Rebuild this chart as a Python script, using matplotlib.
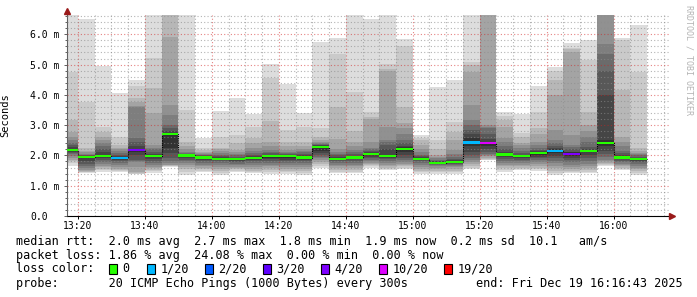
import matplotlib
matplotlib.use("Agg")
import matplotlib.pyplot as plt
import numpy as np
from matplotlib.patches import Rectangle

plt.rcParams['font.family'] = ['DejaVu Sans Mono', 'DejaVu Sans']

# ---------------- data ----------------
bar_start = ["13:15", "13:20", "13:25", "13:30", "13:35", "13:40", "13:45", "13:50",
             "13:55", "14:00", "14:05", "14:10", "14:15", "14:20", "14:25", "14:30",
             "14:35", "14:40", "14:45", "14:50", "14:55", "15:00", "15:05", "15:10",
             "15:15", "15:20", "15:25", "15:30", "15:35", "15:40", "15:45", "15:50",
             "15:55", "16:00", "16:05"]

median_ms = [2.19, 1.94, 1.98, 1.92, 2.17, 1.98, 2.71, 2.00, 1.93, 1.89, 1.88, 1.92,
             1.97, 1.98, 1.93, 2.29, 1.89, 1.93, 2.05, 1.97, 2.22, 1.89, 1.76, 1.78,
             2.43, 2.40, 2.03, 1.97, 2.08, 2.14, 2.04, 2.15, 2.42, 1.93, 1.88]

# index into loss_labels for each bar
loss_level = [0, 0, 0, 1, 4, 0, 0, 0, 0, 0, 0, 0, 0, 0, 0, 0, 0, 0, 0, 0, 0, 0, 0, 0,
              1, 5, 0, 0, 0, 1, 4, 0, 0, 0, 0]

loss_labels = ["0", "1/20", "2/20", "3/20", "4/20", "10/20", "19/20"]
loss_colors = ["#26ff00", "#00b8ff", "#0059ff", "#5e00ff", "#7e00ff", "#dd00ff", "#ff0000"]

# 20 sorted ping round-trip times (ms) per 5-minute step
ping_ms = [
    [1.66, 1.74, 1.80, 1.86, 1.92, 1.98, 2.04, 2.08, 2.12, 2.17, 2.22, 2.28, 2.34, 2.42, 2.50, 2.60, 2.79, 3.16, 4.76, 7.00],
    [1.42, 1.44, 1.46, 1.49, 1.52, 1.58, 1.65, 1.72, 1.80, 1.90, 1.96, 1.98, 2.00, 2.02, 2.06, 2.10, 2.15, 2.23, 3.77, 6.52],
    [1.45, 1.52, 1.56, 1.61, 1.66, 1.72, 1.78, 1.84, 1.90, 1.96, 2.02, 2.10, 2.20, 2.30, 2.40, 2.50, 2.62, 2.79, 2.95, 4.95],
    [1.46, 1.49, 1.52, 1.56, 1.62, 1.68, 1.74, 1.80, 1.85, 1.90, 1.96, 1.99, 2.03, 2.08, 2.15, 2.20, 2.25, 2.35, 2.62, 4.06],
    [1.39, 1.40, 1.42, 1.45, 1.63, 1.78, 1.82, 1.85, 2.00, 2.10, 2.20, 2.30, 2.45, 2.57, 3.60, 3.62, 3.75, 3.90, 4.29, 4.48],
    [1.42, 1.47, 1.52, 1.58, 1.63, 1.70, 1.76, 1.82, 1.88, 1.95, 2.02, 2.05, 2.10, 2.20, 2.25, 2.35, 3.40, 4.23, 5.22, 7.00],
    [1.62, 1.64, 1.66, 1.68, 1.70, 1.74, 1.80, 1.90, 2.07, 2.24, 2.73, 2.80, 2.90, 3.00, 3.34, 3.67, 5.92, 7.00, 7.20, 7.40],
    [1.37, 1.45, 1.55, 1.62, 1.70, 1.75, 1.80, 1.85, 1.90, 1.97, 2.02, 2.03, 2.05, 2.08, 2.12, 2.20, 2.30, 2.45, 3.50, 7.00],
    [1.44, 1.50, 1.55, 1.60, 1.65, 1.70, 1.75, 1.80, 1.85, 1.90, 1.96, 1.99, 2.01, 2.03, 2.05, 2.08, 2.12, 2.18, 2.23, 2.57],
    [1.36, 1.42, 1.50, 1.56, 1.62, 1.68, 1.74, 1.80, 1.84, 1.88, 1.92, 1.95, 1.98, 2.02, 2.08, 2.14, 2.20, 2.23, 2.62, 3.47],
    [1.46, 1.50, 1.54, 1.58, 1.62, 1.67, 1.72, 1.77, 1.82, 1.86, 1.90, 1.93, 1.96, 2.00, 2.05, 2.10, 2.18, 2.40, 2.68, 3.90],
    [1.41, 1.45, 1.50, 1.56, 1.62, 1.68, 1.74, 1.80, 1.86, 1.90, 1.95, 1.98, 2.02, 2.08, 2.15, 2.23, 2.40, 2.57, 2.95, 3.38],
    [1.38, 1.45, 1.52, 1.58, 1.64, 1.70, 1.76, 1.82, 1.88, 1.93, 1.99, 2.03, 2.08, 2.13, 2.18, 2.30, 2.45, 3.15, 4.56, 5.03],
    [1.38, 1.44, 1.50, 1.56, 1.62, 1.68, 1.74, 1.80, 1.86, 1.93, 2.00, 2.02, 2.04, 2.08, 2.13, 2.18, 2.30, 2.45, 2.84, 4.37],
    [1.36, 1.42, 1.48, 1.55, 1.62, 1.68, 1.74, 1.80, 1.86, 1.91, 1.96, 2.00, 2.04, 2.10, 2.16, 2.22, 2.32, 2.45, 2.95, 3.40],
    [1.60, 1.66, 1.72, 1.78, 1.84, 1.90, 1.96, 2.02, 2.08, 2.16, 2.32, 2.34, 2.36, 2.38, 2.42, 2.46, 2.50, 2.60, 2.90, 5.75],
    [1.41, 1.46, 1.52, 1.58, 1.64, 1.70, 1.75, 1.80, 1.84, 1.88, 1.92, 1.96, 2.00, 2.05, 2.12, 2.20, 2.55, 3.60, 5.36, 5.88],
    [1.41, 1.46, 1.52, 1.58, 1.64, 1.70, 1.76, 1.82, 1.87, 1.91, 1.95, 1.99, 2.04, 2.10, 2.18, 2.30, 2.45, 2.80, 4.10, 7.00],
    [1.60, 1.64, 1.68, 1.72, 1.76, 1.80, 1.85, 1.90, 1.96, 2.02, 2.08, 2.12, 2.16, 2.20, 2.25, 2.45, 3.20, 3.28, 3.45, 6.52],
    [1.52, 1.56, 1.60, 1.65, 1.70, 1.76, 1.82, 1.88, 1.92, 1.95, 2.02, 2.20, 2.35, 2.45, 2.51, 2.95, 4.80, 4.85, 5.03, 7.00],
    [1.56, 1.60, 1.64, 1.68, 1.73, 1.78, 1.84, 1.90, 2.00, 2.12, 2.28, 2.32, 2.40, 2.50, 2.70, 2.90, 3.07, 3.60, 5.62, 5.86],
    [1.38, 1.44, 1.50, 1.56, 1.62, 1.68, 1.74, 1.80, 1.85, 1.88, 1.92, 1.95, 1.98, 2.02, 2.10, 2.20, 2.35, 2.50, 2.57, 2.67],
    [1.38, 1.44, 1.50, 1.55, 1.60, 1.64, 1.68, 1.71, 1.73, 1.75, 1.78, 1.80, 1.83, 1.86, 1.90, 1.95, 2.00, 2.20, 2.50, 4.26],
    [1.39, 1.44, 1.50, 1.56, 1.62, 1.66, 1.70, 1.73, 1.76, 1.78, 1.80, 1.84, 1.88, 1.95, 2.05, 2.18, 2.50, 2.78, 3.10, 4.50],
    [1.55, 1.60, 1.66, 1.72, 1.78, 1.84, 1.92, 2.00, 2.10, 2.30, 2.56, 2.70, 2.85, 3.00, 3.17, 3.67, 4.76, 5.00, 5.09, 7.00],
    [1.84, 1.86, 1.88, 1.93, 1.97, 2.00, 2.05, 2.10, 2.20, 2.30, 2.45, 2.55, 2.70, 2.90, 2.95, 3.00, 7.00, 7.10, 7.20, 7.30],
    [1.46, 1.52, 1.58, 1.64, 1.70, 1.76, 1.82, 1.88, 1.94, 2.00, 2.06, 2.12, 2.20, 2.30, 2.45, 2.57, 2.94, 3.16, 3.30, 3.43],
    [1.52, 1.56, 1.60, 1.65, 1.70, 1.75, 1.80, 1.86, 1.90, 1.94, 1.99, 2.03, 2.07, 2.15, 2.25, 2.35, 2.40, 2.60, 2.73, 3.38],
    [1.48, 1.54, 1.60, 1.66, 1.72, 1.78, 1.84, 1.90, 1.96, 2.03, 2.10, 2.14, 2.18, 2.25, 2.35, 2.46, 2.70, 2.90, 3.43, 4.29],
    [1.35, 1.42, 1.50, 1.58, 1.66, 1.74, 1.82, 1.90, 1.98, 2.08, 2.20, 2.23, 2.30, 2.40, 2.51, 2.83, 3.98, 4.50, 4.78, 4.92],
    [1.41, 1.45, 1.50, 1.55, 1.62, 1.70, 1.78, 1.85, 1.92, 1.98, 2.10, 2.13, 2.20, 2.28, 2.35, 2.66, 5.40, 5.50, 5.56, 5.72],
    [1.41, 1.46, 1.52, 1.58, 1.65, 1.72, 1.80, 1.90, 2.00, 2.10, 2.18, 2.22, 2.29, 2.45, 2.62, 2.80, 3.00, 3.43, 5.14, 5.80],
    [1.66, 1.69, 1.72, 1.76, 1.80, 1.86, 1.96, 2.05, 2.15, 2.30, 2.50, 3.98, 4.80, 5.36, 5.69, 7.00, 7.10, 7.20, 7.30, 7.40],
    [1.52, 1.56, 1.60, 1.64, 1.68, 1.72, 1.77, 1.82, 1.87, 1.91, 1.96, 2.02, 2.07, 2.15, 2.30, 2.45, 2.61, 4.15, 5.80, 5.88],
    [1.36, 1.42, 1.48, 1.54, 1.60, 1.66, 1.72, 1.77, 1.81, 1.85, 1.90, 1.93, 1.96, 2.00, 2.04, 2.08, 2.15, 2.23, 4.76, 6.30],
]

x_tick_labels = ["13:20", "13:40", "14:00", "14:20", "14:40", "15:00", "15:20", "15:40", "16:00"]
y_tick_values = [0, 1, 2, 3, 4, 5, 6]
y_tick_labels = ["0.0", "1.0 m", "2.0 m", "3.0 m", "4.0 m", "5.0 m", "6.0 m"]

view_start = "13:16:43"
view_end = "16:16:43"
step_min = 5

legend_rtt = "median rtt:  2.0 ms avg  2.7 ms max  1.8 ms min  1.9 ms now  0.2 ms sd  10.1   am/s"
legend_loss = "packet loss: 1.86 % avg  24.08 % max  0.00 % min  0.00 % now"
legend_color = "loss color:"
legend_probe = "probe:       20 ICMP Echo Pings (1000 Bytes) every 300s"
legend_end = "end: Fri Dec 19 16:16:43 2025"


def to_min(s):
    parts = [int(p) for p in s.split(":")]
    m = (parts[0] - 13) * 60 + parts[1]
    if len(parts) > 2:
        m += parts[2] / 60.0
    return m


# ---------------- figure ----------------
W, H = 697, 297
fig = plt.figure(figsize=(W / 100, H / 100), dpi=100)
fig.patch.set_facecolor("white")

ax_l, ax_r, ax_t, ax_b = 67, 669.5, 15, 216
ax = fig.add_axes([ax_l / W, 1 - ax_b / H, (ax_r - ax_l) / W, (ax_b - ax_t) / H])
ax.set_facecolor("white")

x_left = np.array([to_min(t) for t in bar_start])
P = np.array(ping_ms)
med = np.array(median_ms)

ymax = 6.638
sw = ymax / (ax_b - ax_t)  # one pixel in ms

# smoke: nested bands, darker toward the middle
for i in range(10):
    ibot = i + 1
    shade = int(190 / 10 * (10 - ibot)) + 50
    col = "#%02x%02x%02x" % (shade, shade, shade)
    lo = P[:, i]
    hi = P[:, 19 - i]
    ax.bar(x_left, hi - lo, width=step_min, bottom=lo, align="edge", color=col,
           linewidth=0, antialiased=False, zorder=1)

# dotted median step line
xs = np.append(x_left, x_left[-1] + step_min)
ys = np.append(med, med[-1])
ax.step(xs, ys, where="post", color="#000000", lw=0.8, ls=(0, (1, 1)), zorder=3)

# colored median by loss
mcols = [loss_colors[k] for k in loss_level]
ax.bar(x_left, 2.2 * sw, width=step_min, bottom=med - 1.1 * sw, align="edge", color=mcols,
       linewidth=0, antialiased=False, zorder=4)

ax.set_xlim(to_min(view_start), to_min(view_end))
ax.set_ylim(0, ymax)

# ticks / grid
ax.set_xticks([to_min(t) for t in x_tick_labels])
ax.set_xticklabels(x_tick_labels)
ax.set_xticks(np.arange(20, 200, 5), minor=True)
ax.set_yticks(y_tick_values)
ax.set_yticklabels(y_tick_labels)
ax.set_yticks(np.arange(0, 6.61, 0.2), minor=True)

ax.set_axisbelow(False)
ax.grid(which="minor", color="#8c8c8c", alpha=0.65, lw=0.8, ls=(0, (1, 2)))
ax.grid(which="major", color="#d02020", alpha=0.55, lw=0.8, ls=(0, (1, 2)))

ax.tick_params(axis="y", which="major", length=2.2, width=0.7, color="#606060",
               pad=24.4, labelsize=7)
ax.tick_params(axis="y", which="minor", length=1.4, width=0.7, color="#606060")
ax.tick_params(axis="x", which="major", length=2, width=0.7, color="#000000",
               pad=1.6, labelsize=7)
ax.tick_params(axis="x", which="minor", length=0)
for lab in ax.get_yticklabels():
    lab.set_horizontalalignment("left")

for s in ("top", "right"):
    ax.spines[s].set_visible(False)
ax.spines["left"].set_color("#606060")
ax.spines["left"].set_linewidth(0.8)
ax.spines["bottom"].set_color("#000000")
ax.spines["bottom"].set_linewidth(0.8)

# axis arrows
ax.plot([0], [1 + 4 / (ax_b - ax_t)], marker="^", ms=4.5, color="#9a1a1a",
        transform=ax.transAxes, clip_on=False, zorder=6)
ax.plot([1 + 3 / (ax_r - ax_l)], [0], marker=">", ms=4.5, color="#9a1a1a",
        transform=ax.transAxes, clip_on=False, zorder=6)

ax.set_ylabel("Seconds", fontsize=7.5, labelpad=0)
ax.yaxis.set_label_coords(-(ax_l - 10) / (ax_r - ax_l), 0.5)

# watermark
fig.text(689 / W, 1 - 5 / H, "RRDTOOL / TOBI OETIKER", rotation=270, ha="center",
         va="top", fontsize=6, color="#b4b4b4")

# legend text
lx = 16 / W
fs = 8.5
rows_y = [241, 255, 269, 283.5]
fig.text(lx, 1 - rows_y[0] / H, legend_rtt, fontsize=fs, va="center", ha="left")
fig.text(lx, 1 - rows_y[1] / H, legend_loss, fontsize=fs, va="center", ha="left")
fig.text(lx, 1 - rows_y[2] / H, legend_color, fontsize=fs, va="center", ha="left")
fig.text(lx, 1 - rows_y[3] / H, legend_probe, fontsize=fs, va="center", ha="left")
fig.text(683 / W, 1 - rows_y[3] / H, legend_end, fontsize=fs, va="center", ha="right")

box_x = [109, 147, 205, 263, 321, 379, 444]
bw, bh = 8, 10
for bx, lab, col in zip(box_x, loss_labels, loss_colors):
    fig.patches.append(Rectangle((bx / W, 1 - (rows_y[2] + bh / 2) / H), bw / W, bh / H,
                                 transform=fig.transFigure, facecolor=col,
                                 edgecolor="black", linewidth=0.8))
    fig.text((bx + 13.5) / W, 1 - rows_y[2] / H, lab, fontsize=fs, va="center", ha="left")

fig.savefig("out.png", dpi=100, facecolor="white")
